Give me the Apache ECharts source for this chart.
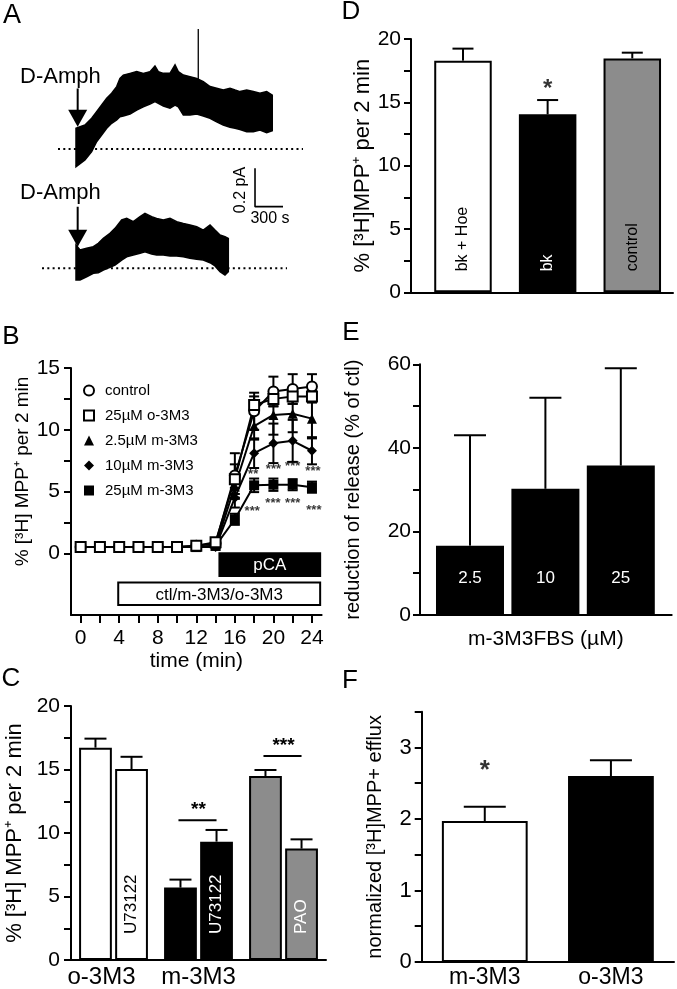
<!DOCTYPE html>
<html><head><meta charset="utf-8">
<script src="https://cdn.jsdelivr.net/npm/echarts@6/dist/echarts.min.js"></script>
<style>html,body{margin:0;padding:0;background:#fff}#c{width:677px;height:989px}</style>
</head><body><div id="c"></div>
<script>
// ===================== DATA =====================
// Panel A: envelopes of the two amperometric traces (time in s, current in pA above baseline)
const trace1Time  = [0, 96, 168, 221, 275, 329, 382, 436, 471, 507, 579, 650, 721, 793, 846, 882, 936, 1007, 1061, 1096, 1150, 1221, 1293, 1364, 1436, 1507, 1578, 1650, 1704, 1757, 1829, 1900, 1971, 2043, 2103];
const trace1Upper = [0.108, 0.125, 0.160, 0.194, 0.229, 0.264, 0.290, 0.325, 0.368, 0.385, 0.394, 0.403, 0.394, 0.403, 0.432, 0.403, 0.394, 0.394, 0.438, 0.403, 0.385, 0.377, 0.368, 0.351, 0.325, 0.316, 0.307, 0.316, 0.307, 0.299, 0.307, 0.299, 0.290, 0.299, 0.281];
const trace1Lower = [-0.092, -0.057, -0.014, 0.038, 0.073, 0.108, 0.134, 0.151, 0.168, 0.172, 0.182, 0.203, 0.220, 0.234, 0.247, 0.238, 0.224, 0.212, 0.229, 0.220, 0.177, 0.177, 0.182, 0.172, 0.160, 0.142, 0.125, 0.113, 0.108, 0.102, 0.090, 0.090, 0.099, 0.085, 0.095];
const trace1Spike = [[1310, 0.20], [1310, 0.625]];
const trace2Time  = [0, 43, 114, 186, 239, 293, 364, 418, 489, 543, 614, 686, 739, 811, 864, 936, 1007, 1079, 1150, 1221, 1293, 1364, 1436, 1489, 1543, 1596, 1632];
const trace2Upper = [0.121, 0.095, 0.104, 0.113, 0.130, 0.156, 0.182, 0.208, 0.252, 0.260, 0.243, 0.269, 0.286, 0.269, 0.260, 0.252, 0.260, 0.243, 0.234, 0.226, 0.217, 0.199, 0.226, 0.199, 0.173, 0.165, 0.156];
const trace2Lower = [-0.061, -0.061, -0.044, -0.026, -0.023, -0.009, 0.005, 0.017, 0.043, 0.060, 0.069, 0.078, 0.086, 0.074, 0.069, 0.069, 0.064, 0.064, 0.060, 0.052, 0.047, 0.043, 0.029, 0.012, -0.018, -0.035, -0.018];
const baseline1 = [[-193, 0], [2432, 0]];
const baseline2 = [[-364, 0], [2261, 0]];
const arrowTime = 18;                      // s, D-Amph application
const scaleBarSec = 300, scaleBarPA = 0.2; // scale bar
const scaleBarOrigin = [1918, 0.321];

// Panel B: time course (min) of [3H]MPP+ release, % per 2 min
const timeMin = [0, 2, 4, 6, 8, 10, 12, 14, 16, 18, 20, 22, 24];
const seriesNamesB = ['control', '25µM o-3M3', '2.5µM m-3M3', '10µM m-3M3', '25µM m-3M3'];
const controlB = [0.5, 0.5, 0.5, 0.5, 0.5, 0.5, 0.6, 0.8, 6.3, 11.5, 13.1, 13.3, 13.5];
const controlErrB = [0.05, 0.05, 0.05, 0.05, 0.05, 0.05, 0.1, 0.1, 1.8, 1.5, 1.2, 1.2, 1.0];
const o3m3B = [0.5, 0.5, 0.5, 0.5, 0.5, 0.5, 0.6, 0.9, 6.0, 12.0, 12.5, 12.7, 12.7];
const o3m3ErrB = [0.05, 0.05, 0.05, 0.05, 0.05, 0.05, 0.1, 0.1, 1.2, 0.7, 0.6, 0.6, 0.5];
const m25B = [0.5, 0.5, 0.5, 0.5, 0.5, 0.5, 0.5, 0.6, 5.4, 10.3, 11.2, 11.3, 10.9];
const m25ErrB = [0.05, 0.05, 0.05, 0.05, 0.05, 0.05, 0.1, 0.1, 1.0, 1.1, 1.6, 1.5, 1.6];
const m10B = [0.5, 0.5, 0.5, 0.5, 0.5, 0.5, 0.5, 0.5, 4.5, 8.1, 8.9, 9.1, 8.3];
const m10ErrB = [0.05, 0.05, 0.05, 0.05, 0.05, 0.05, 0.1, 0.1, 0.8, 1.2, 1.6, 1.7, 1.1];
const m250B = [0.5, 0.5, 0.5, 0.5, 0.5, 0.5, 0.5, 0.6, 2.75, 5.5, 5.55, 5.55, 5.35];
const m250ErrB = [0.05, 0.05, 0.05, 0.05, 0.05, 0.05, 0.1, 0.1, 0.45, 0.55, 0.5, 0.45, 0.45];
const starsB = [[17.9, 6.4, '**'], [20.0, 6.8, '***'], [22.0, 7.0, '***'], [24.1, 6.6, '***'],
                [17.8, 3.4, '***'], [19.95, 4.0, '***'], [22.0, 4.0, '***'], [24.2, 3.5, '***']];
const boxLabelsB = ['pCA', 'ctl/m-3M3/o-3M3'];
const boxStartB = [14.4, 3.9];
const boxEndB = [24.85, 24.85];
const boxTopB = [0, -2.37];
const boxBottomB = [-1.85, -4.2];

// Panel C
const groupsC = ['o-3M3', 'm-3M3', ''];
const firstBarC = [16.72, 5.70, 14.49];
const firstErrC = [0.71, 0.63, 0.47];
const secondBarC = [15.04, 9.32, 8.77];
const secondErrC = [0.96, 0.92, 0.73];
const secondLabelsC = ['U73122', 'U73122', 'PAO'];
const sigC = [[1, 11.0, '**'], [2, 16.06, '***']];

// Panel D
const catsD = ['bk + Hoe', 'bk', 'control'];
const valuesD = [18.29, 14.05, 18.47];
const errD = [0.95, 1.13, 0.45];
const starsD = [[1, 16.0, '*']];

// Panel E
const catsE = ['2.5', '10', '25'];
const valuesE = [16.6, 30.2, 35.75];
const errE = [26.4, 21.8, 23.3];

// Panel F
const catsF = ['m-3M3', 'o-3M3'];
const valuesF = [1.97, 2.60];
const errF = [0.20, 0.22];
const starsF = [[0, 2.68, '*']];

// ===================== STYLE / BUILD =====================
const FONT = "'Liberation Sans', Arial, Helvetica, sans-serif";
const GRAY = '#8c8c8c';
const barColors3 = ['#ffffff', '#000000', GRAY];
const labelColorsC = ['#000000', '#ffffff', '#ffffff'];
const labelColorsD = ['#000000', '#ffffff', '#000000'];

function vAxis(o) {
  return Object.assign({
    type: 'value',
    axisLine: { show: true, onZero: false, lineStyle: { color: '#000', width: 2 } },
    axisTick: { show: true, length: 7, lineStyle: { color: '#000', width: 2 } },
    splitLine: { show: false },
    axisLabel: { color: '#000', fontSize: 21, fontFamily: FONT, margin: 11 },
    nameTextStyle: { color: '#000', fontFamily: FONT }
  }, o);
}
function hidden(o) { return Object.assign({ type: 'value', show: false, splitLine: { show: false } }, o); }

function errRender(capPx, twoSided) {
  return function (params, api) {
    const x = api.value(0), v = api.value(1), e = api.value(2);
    const top = api.coord([x, v + e]);
    const bot = api.coord([x, twoSided ? v - e : v]);
    const st = { stroke: '#000', lineWidth: 2 };
    const ch = [
      { type: 'line', shape: { x1: top[0], y1: top[1], x2: bot[0], y2: bot[1] }, style: st },
      { type: 'line', shape: { x1: top[0] - capPx / 2, y1: top[1], x2: top[0] + capPx / 2, y2: top[1] }, style: st }
    ];
    if (twoSided) ch.push({ type: 'line', shape: { x1: bot[0] - capPx / 2, y1: bot[1], x2: bot[0] + capPx / 2, y2: bot[1] }, style: st });
    return { type: 'group', children: ch };
  };
}
function envelope(times, up, lo) {
  return function (params, api) {
    const pts = [];
    for (let i = 0; i < times.length; i++) pts.push(api.coord([times[i], up[i]]));
    for (let i = times.length - 1; i >= 0; i--) pts.push(api.coord([times[i], lo[i]]));
    return { type: 'polygon', shape: { points: pts }, style: { fill: '#000', stroke: '#000', lineWidth: 1.5, lineJoin: 'miter' } };
  };
}
// vertical text label standing on the bottom of a bar (reads bottom to top)
function barTextRender(texts, colors, lift, size) {
  return function (params, api) {
    const p = api.coord([api.value(0), 0]);
    const i = params.dataIndex;
    return { type: 'text', x: p[0], y: p[1] - lift, rotation: Math.PI / 2,
      style: { text: texts[i], fill: colors[i], fontSize: size, fontFamily: FONT, align: 'left', verticalAlign: 'middle' } };
  };
}
// C: bar offsets inside category derived from axis band width
const C_GAP = 0.19, C_BARGAP = 0.10;
function cOffset(api, slot) {
  const bw = api.size([1, 0])[0];
  const inner = bw * (1 - C_GAP);
  const w = inner / (2 + C_BARGAP);
  return -inner / 2 + w / 2 + slot * w * (1 + C_BARGAP);
}

const pairs = (xs, ys) => xs.map((x, i) => [x, ys[i]]);
const triples = (xs, ys, es) => xs.map((x, i) => [x, ys[i], es[i]]);

const grids = [
  { left: 34, top: 14.6, width: 280, height: 172.8 },   // A1
  { left: 34, top: 133.9, width: 280, height: 172.8 },  // A2
  { left: 71, top: 368, width: 250.6, height: 247 },    // B
  { left: 71, top: 706, width: 255, height: 254 },      // C
  { left: 411, top: 39, width: 262, height: 253.3 },    // D
  { left: 420, top: 364.3, width: 251.7, height: 250.7 },// E
  { left: 421.7, top: 711.7, width: 252.3, height: 251.6 } // F
];

const xAxes = [
  hidden({ gridIndex: 0, min: -450, max: 2550 }),
  hidden({ gridIndex: 1, min: -450, max: 2550 }),
  vAxis({ gridIndex: 2, min: -1, max: 25,
    axisTick: { show: true, length: 8, customValues: timeMin, lineStyle: { color: '#000', width: 2 } },
    axisLabel: { color: '#000', fontSize: 21, fontFamily: FONT, margin: 13, customValues: [0, 4, 8, 12, 16, 20, 24] },
    name: 'time (min)', nameLocation: 'middle', nameGap: 36, nameTextStyle: { color: '#000', fontFamily: FONT, fontSize: 21 } }),
  { type: 'category', gridIndex: 3, data: [{ value: groupsC[0], textStyle: { padding: [0, 24, 0, 0] } }, groupsC[1], groupsC[2]],
    axisLine: { onZero: false, lineStyle: { color: '#000', width: 2 } }, axisTick: { show: false },
    axisLabel: { color: '#000', fontSize: 24, fontFamily: FONT, margin: 5, interval: 0 } },
  vAxis({ gridIndex: 4, min: -0.614, max: 2.481, axisTick: { show: false }, axisLabel: { show: false } }),
  vAxis({ gridIndex: 5, min: -0.663, max: 2.675, axisTick: { show: false }, axisLabel: { show: false },
    name: 'm-3M3FBS (µM)', nameLocation: 'middle', nameGap: 14, nameTextStyle: { color: '#000', fontFamily: FONT, fontSize: 21 } }),
  { type: 'category', gridIndex: 6, data: catsF, axisLine: { onZero: false, lineStyle: { color: '#000', width: 2 } },
    axisTick: { show: false }, axisLabel: { color: '#000', fontSize: 23, fontFamily: FONT, margin: 4 } }
];

const yAxes = [
  hidden({ gridIndex: 0, min: -0.2, max: 0.7 }),
  hidden({ gridIndex: 1, min: -0.2, max: 0.7 }),
  vAxis({ gridIndex: 2, min: -5, max: 15,
    axisTick: { show: true, length: 7, customValues: [0, 2.5, 5, 7.5, 10, 12.5, 15], lineStyle: { color: '#000', width: 2 } },
    axisLabel: { color: '#000', fontSize: 21, fontFamily: FONT, margin: 11, customValues: [0, 5, 10, 15] },
    name: '% [³H] MPP⁺ per 2 min', nameLocation: 'middle', nameGap: 37,
    nameTextStyle: { color: '#000', fontFamily: FONT, fontSize: 19, padding: [0, 0, 0, 40] } }),
  vAxis({ gridIndex: 3, min: 0, max: 20, interval: 2.5,
    axisLabel: { color: '#000', fontSize: 21, fontFamily: FONT, margin: 11, customValues: [0, 5, 10, 15, 20] },
    name: '% [³H] MPP⁺ per 2 min', nameLocation: 'middle', nameGap: 45, nameTextStyle: { color: '#000', fontFamily: FONT, fontSize: 22 } }),
  vAxis({ gridIndex: 4, min: 0, max: 20, interval: 2.5,
    axisLabel: { color: '#000', fontSize: 21, fontFamily: FONT, margin: 10, customValues: [0, 5, 10, 15, 20] },
    name: '% [³H]MPP⁺ per 2 min', nameLocation: 'middle', nameGap: 35, nameTextStyle: { color: '#000', fontFamily: FONT, fontSize: 22 } }),
  vAxis({ gridIndex: 5, min: 0, max: 60, interval: 10,
    axisLabel: { color: '#000', fontSize: 21, fontFamily: FONT, margin: 9, customValues: [0, 20, 40, 60] },
    name: 'reduction of release (% of ctl)', nameLocation: 'middle', nameGap: 57, nameTextStyle: { color: '#000', fontFamily: FONT, fontSize: 20 } }),
  vAxis({ gridIndex: 6, min: 0, max: 3.5, interval: 0.5,
    axisLabel: { color: '#000', fontSize: 22, fontFamily: FONT, margin: 10, customValues: [0, 1, 2, 3] },
    name: 'normalized [³H]MPP+ efflux', nameLocation: 'middle', nameGap: 36, nameTextStyle: { color: '#000', fontFamily: FONT, fontSize: 20 } })
];

const series = [];
// ---- A ----
series.push({ type: 'line', xAxisIndex: 0, yAxisIndex: 0, data: baseline1, symbol: 'none', silent: true,
  lineStyle: { color: '#000', width: 2, type: [2, 3.3] } });
series.push({ type: 'line', xAxisIndex: 1, yAxisIndex: 1, data: baseline2, symbol: 'none', silent: true,
  lineStyle: { color: '#000', width: 2, type: [2, 3.3] } });
series.push({ type: 'custom', xAxisIndex: 0, yAxisIndex: 0, data: [[0, 0]], renderItem: envelope(trace1Time, trace1Upper, trace1Lower), silent: true, z: 3 });
series.push({ type: 'custom', xAxisIndex: 1, yAxisIndex: 1, data: [[0, 0]], renderItem: envelope(trace2Time, trace2Upper, trace2Lower), silent: true, z: 3 });
series.push({ type: 'line', xAxisIndex: 0, yAxisIndex: 0, data: trace1Spike, symbol: 'none', lineStyle: { color: '#000', width: 1.3 } });
// arrows
const arrowHead = { symbol: 'triangle', symbolRotate: 180, symbolSize: [19, 17], itemStyle: { color: '#000', opacity: 1 } };
series.push({ type: 'line', xAxisIndex: 0, yAxisIndex: 0, data: [[arrowTime, 0.315], [arrowTime, 0.19]], symbol: 'none', lineStyle: { color: '#000', width: 2 } });
series.push(Object.assign({ type: 'scatter', xAxisIndex: 0, yAxisIndex: 0, data: [[arrowTime, 0.160]] }, arrowHead));
series.push({ type: 'line', xAxisIndex: 1, yAxisIndex: 1, data: [[arrowTime, 0.321], [arrowTime, 0.19]], symbol: 'none', lineStyle: { color: '#000', width: 2 } });
series.push(Object.assign({ type: 'scatter', xAxisIndex: 1, yAxisIndex: 1, data: [[arrowTime, 0.157]] }, arrowHead));
// scale bar
series.push({ type: 'line', xAxisIndex: 1, yAxisIndex: 1, symbol: 'none', lineStyle: { color: '#000', width: 1.6 },
  data: [[scaleBarOrigin[0], scaleBarOrigin[1] + scaleBarPA], scaleBarOrigin, [scaleBarOrigin[0] + scaleBarSec, scaleBarOrigin[1]]] });

// ---- B ----
const bDefs = [
  { name: seriesNamesB[4], y: m250B, e: m250ErrB, symbol: 'rect', size: 10, fill: '#000' },
  { name: seriesNamesB[3], y: m10B, e: m10ErrB, symbol: 'diamond', size: 10, fill: '#000' },
  { name: seriesNamesB[2], y: m25B, e: m25ErrB, symbol: 'triangle', size: 10, fill: '#000' },
  { name: seriesNamesB[0], y: controlB, e: controlErrB, symbol: 'circle', size: 10, fill: '#fff' },
  { name: seriesNamesB[1], y: o3m3B, e: o3m3ErrB, symbol: 'rect', size: 10, fill: '#fff' }
];
bDefs.forEach(d => {
  series.push({ type: 'custom', xAxisIndex: 2, yAxisIndex: 2, data: triples(timeMin, d.y, d.e), renderItem: errRender(10, true), silent: true, z: 2 });
});
bDefs.forEach(d => {
  series.push({ type: 'line', name: d.name, xAxisIndex: 2, yAxisIndex: 2, data: pairs(timeMin, d.y), symbol: d.symbol, symbolSize: d.size,
    showAllSymbol: true, lineStyle: { color: '#000', width: 2 },
    itemStyle: { color: d.fill, borderColor: '#000', borderWidth: d.fill === '#fff' ? 2 : 0, opacity: 1 }, z: 3 });
});
series.push({ type: 'scatter', xAxisIndex: 2, yAxisIndex: 2, data: starsB, symbolSize: 0, silent: true, z: 4,
  label: { show: true, position: 'inside', formatter: p => p.value[2], color: '#000', fontSize: 13, fontWeight: 'bold', fontFamily: FONT } });
series.push({ type: 'custom', xAxisIndex: 2, yAxisIndex: 2, silent: true, z: 1,
  data: boxLabelsB.map((t, i) => [boxStartB[i], boxTopB[i], boxEndB[i], boxBottomB[i], i]),
  renderItem: (params, api) => {
    const p0 = api.coord([api.value(0), api.value(1)]), p1 = api.coord([api.value(2), api.value(3)]);
    const i = api.value(4);
    const dark = i === 0;
    return { type: 'group', children: [
      { type: 'rect', shape: { x: p0[0], y: p0[1], width: p1[0] - p0[0], height: p1[1] - p0[1] },
        style: { fill: dark ? '#000' : '#fff', stroke: '#000', lineWidth: 2 } },
      { type: 'text', x: (p0[0] + p1[0]) / 2, y: (p0[1] + p1[1]) / 2 + 1,
        style: { text: boxLabelsB[i], fill: dark ? '#fff' : '#000', fontSize: 17, fontFamily: FONT, align: 'center', verticalAlign: 'middle' } }
    ] };
  } });

// ---- C ----
series.push({ type: 'bar', xAxisIndex: 3, yAxisIndex: 3, barGap: '10%', barCategoryGap: '19%',
  data: firstBarC.map((v, i) => ({ value: v, itemStyle: { color: barColors3[i] } })),
  itemStyle: { borderColor: '#000', borderWidth: 2 } });
series.push({ type: 'bar', xAxisIndex: 3, yAxisIndex: 3, barGap: '10%', barCategoryGap: '19%',
  data: secondBarC.map((v, i) => ({ value: v, itemStyle: { color: barColors3[i] } })),
  itemStyle: { borderColor: '#000', borderWidth: 2 } });
series.push({ type: 'custom', xAxisIndex: 3, yAxisIndex: 3, silent: true, z: 4,
  data: secondBarC.map((v, i) => [i, 0]),
  renderItem: (params, api) => {
    const i = params.dataIndex;
    const p = api.coord([api.value(0), 0]);
    return { type: 'text', x: p[0] + cOffset(api, 1), y: p[1] - 26, rotation: Math.PI / 2,
      style: { text: secondLabelsC[i], fill: labelColorsC[i], fontSize: 17, fontFamily: FONT, align: 'left', verticalAlign: 'middle' } };
  } });
series.push({ type: 'custom', xAxisIndex: 3, yAxisIndex: 3, silent: true, z: 3,
  data: firstBarC.map((v, i) => [i, v, firstErrC[i], 0]).concat(secondBarC.map((v, i) => [i, v, secondErrC[i], 1])),
  renderItem: (params, api) => {
    const i = api.value(0), v = api.value(1), e = api.value(2), slot = api.value(3);
    const cx = api.coord([i, 0])[0] + cOffset(api, slot);
    const yt = api.coord([i, v])[1], ye = api.coord([i, v + e])[1];
    const st = { stroke: '#000', lineWidth: 2 };
    return { type: 'group', children: [
      { type: 'line', shape: { x1: cx, y1: yt, x2: cx, y2: ye }, style: st },
      { type: 'line', shape: { x1: cx - 11, y1: ye, x2: cx + 11, y2: ye }, style: st } ] };
  } });
series.push({ type: 'custom', xAxisIndex: 3, yAxisIndex: 3, silent: true, z: 3,
  data: sigC, renderItem: (params, api) => {
    const i = api.value(0), y = api.coord([i, api.value(1)])[1];
    const c = api.coord([i, 0])[0];
    const x1 = c + cOffset(api, 0), x2 = c + cOffset(api, 1);
    return { type: 'group', children: [
      { type: 'line', shape: { x1: x1 - 2, y1: y, x2: x2, y2: y }, style: { stroke: '#000', lineWidth: 2 } },
      { type: 'text', x: (x1 + x2) / 2, y: y - 1, style: { text: sigC[params.dataIndex][2], fill: '#000', fontSize: 19, fontWeight: 'bold', fontFamily: FONT, align: 'center', verticalAlign: 'bottom' } } ] };
  } });

// ---- D ----
series.push({ type: 'bar', xAxisIndex: 4, yAxisIndex: 4, barWidth: 57.5,
  data: valuesD.map((v, i) => ({ value: [i, v], itemStyle: { color: barColors3[i] } })),
  itemStyle: { borderColor: '#000', borderWidth: 2 } });
series.push({ type: 'custom', xAxisIndex: 4, yAxisIndex: 4, silent: true, z: 4,
  data: catsD.map((c, i) => [i, 0]), renderItem: barTextRender(catsD, labelColorsD, 21, 16) });
series.push({ type: 'custom', xAxisIndex: 4, yAxisIndex: 4, silent: true, z: 3,
  data: triples([0, 1, 2], valuesD, errD), renderItem: errRender(21, false) });
series.push({ type: 'scatter', xAxisIndex: 4, yAxisIndex: 4, data: starsD, symbolSize: 0, silent: true,
  label: { show: true, position: 'inside', formatter: p => p.value[2], color: '#000', fontSize: 24, fontWeight: 'bold', fontFamily: FONT } });

// ---- E ----
series.push({ type: 'bar', xAxisIndex: 5, yAxisIndex: 5, barWidth: 68,
  data: valuesE.map((v, i) => [i, v]),
  itemStyle: { color: '#000' },
  label: { show: true, position: 'insideBottom', distance: 28, formatter: p => catsE[p.dataIndex], color: '#fff', fontSize: 17, fontFamily: FONT } });
series.push({ type: 'custom', xAxisIndex: 5, yAxisIndex: 5, silent: true, z: 3,
  data: triples([0, 1, 2], valuesE, errE), renderItem: errRender(32, false) });

// ---- F ----
series.push({ type: 'bar', xAxisIndex: 6, yAxisIndex: 6, barCategoryGap: '32%',
  data: valuesF.map((v, i) => ({ value: v, itemStyle: { color: i === 0 ? '#fff' : '#000' } })),
  itemStyle: { borderColor: '#000', borderWidth: 2 } });
series.push({ type: 'custom', xAxisIndex: 6, yAxisIndex: 6, silent: true, z: 3,
  data: triples([0, 1], valuesF, errF), renderItem: errRender(42, false) });
series.push({ type: 'scatter', xAxisIndex: 6, yAxisIndex: 6, data: starsF, symbolSize: 0, silent: true,
  label: { show: true, position: 'inside', formatter: p => p.value[2], color: '#000', fontSize: 26, fontWeight: 'bold', fontFamily: FONT } });

const txt = (t, x, y, size, extra) => Object.assign({ type: 'text', x: x, y: y,
  style: Object.assign({ text: t, fontSize: size, fontFamily: FONT, fill: '#000', align: 'center', verticalAlign: 'middle' }, extra || {}) });

const option = {
  backgroundColor: '#fff',
  animation: false,
  grid: grids,
  xAxis: xAxes,
  yAxis: yAxes,
  legend: {
    data: [
      { name: seriesNamesB[0], icon: 'circle', itemStyle: { color: '#fff', borderColor: '#000', borderWidth: 2 } },
      { name: seriesNamesB[1], icon: 'rect', itemStyle: { color: '#fff', borderColor: '#000', borderWidth: 2 } },
      { name: seriesNamesB[2], icon: 'triangle', itemStyle: { color: '#000' } },
      { name: seriesNamesB[3], icon: 'diamond', itemStyle: { color: '#000' } },
      { name: seriesNamesB[4], icon: 'rect', itemStyle: { color: '#000' } }
    ],
    orient: 'vertical', left: 78, top: 378, itemWidth: 10, itemHeight: 10, itemGap: 10, selectedMode: false,
    textStyle: { fontSize: 15, color: '#000', fontFamily: FONT, padding: [0, 0, 0, 6] }
  },
  graphic: [
    txt('A', 12, 16, 27), txt('B', 11, 337, 26), txt('C', 11, 679, 26),
    txt('D', 351, 12, 26), txt('E', 351, 333, 26), txt('F', 350, 681, 26),
    txt('D-Amph', 20, 77, 22, { align: 'left' }), txt('D-Amph', 20, 193, 22, { align: 'left' }),
    txt('300 s', 270, 219, 16),
    Object.assign(txt('0.2 pA', 0, 0, 16), { x: 241, y: 190, rotation: Math.PI / 2 })
  ],
  series: series
};

const chart = echarts.init(document.getElementById('c'), null, { renderer: 'canvas' });
chart.setOption(option);
</script></body></html>
